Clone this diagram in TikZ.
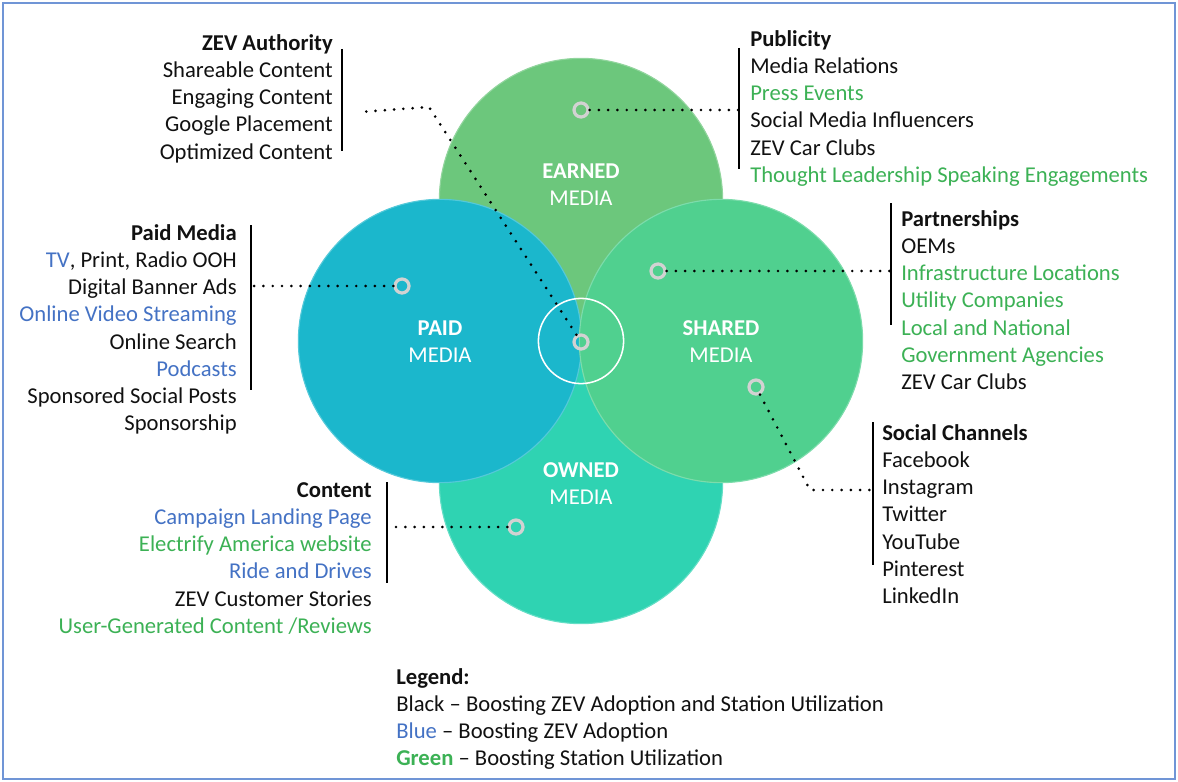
\documentclass[tikz,border=0pt]{standalone}
\usepackage{fontspec}
\setmainfont{Carlito}
\definecolor{earnedfill}{HTML}{6CC77C}
\definecolor{paidfill}{HTML}{1BB7CC}
\definecolor{sharedfill}{HTML}{50D08F}
\definecolor{ownedfill}{HTML}{2FD3B2}
\definecolor{markergray}{HTML}{D2D2D2}
\definecolor{txtblue}{HTML}{4472C4}
\definecolor{txtgreen}{HTML}{3CB155}
\definecolor{txtblack}{HTML}{111111}
\definecolor{framecol}{HTML}{7095D6}
\newcommand{\listfont}{\fontsize{16.1}{19.35}\selectfont}
\newcommand{\inblue}[1]{\textcolor{txtblue}{#1}}
\newcommand{\ingreen}[1]{\textcolor{txtgreen}{#1}}
\tikzset{
  media/.style={circle, minimum size=7.08cm, inner sep=0pt},
  mediatext/.style={text=white, align=center, anchor=north, inner sep=0pt, font=\listfont},
  marker/.style={circle, draw=markergray, line width=2.3pt, minimum size=0.35cm, inner sep=0pt},
  dotline/.style={line width=2.1pt, line cap=round, dash pattern=on 0pt off 6.6pt},
  bracket/.style={line width=2pt},
  listleft/.style={anchor=north west, align=left, inner sep=0pt, text=txtblack, font=\listfont},
  listright/.style={anchor=north east, align=right, inner sep=0pt, text=txtblack, font=\listfont}
}
\begin{document}
\begin{tikzpicture}[x=0.025cm, y=-0.025cm]
\useasboundingbox (0,0) rectangle (1178,782);
\draw[framecol, line width=2.1pt] (3,3) rectangle (1175,779);
% the four media circles
\node[media, fill=ownedfill, draw=ownedfill!75!white, line width=0.8pt] (owned) at (581,482) {};
\node[media, fill=earnedfill, draw=earnedfill!75!white, line width=0.8pt] (earned) at (581,200) {};
\node[media, fill=paidfill, draw=paidfill!75!white, line width=0.8pt] (paid) at (440,341) {};
\node[media, fill=sharedfill, draw=sharedfill!75!white, line width=0.8pt] (shared) at (721,341) {};
\node[circle, draw=white, line width=1.1pt, minimum size=2.13cm, inner sep=0pt] (hub) at (581,341) {};
\node[mediatext] (earnedlabel) at (581,159) {\strut\textbf{EARNED}\\MEDIA};
\node[mediatext] (paidlabel) at (440,316) {\strut\textbf{PAID}\\MEDIA};
\node[mediatext] (sharedlabel) at (721,316) {\strut\textbf{SHARED}\\MEDIA};
\node[mediatext] (ownedlabel) at (581,458) {\strut\textbf{OWNED}\\MEDIA};
% markers
\node[marker] (earnedmark) at (581,110) {};
\node[marker] (paidmark) at (402,286) {};
\node[marker] (sharedmark) at (658,271) {};
\node[marker] (socialmark) at (756,387) {};
\node[marker] (ownedmark) at (516,527) {};
\node[marker] (hubmark) at (581,342) {};
% bracket ends
\coordinate (pubtip) at (739,110);
\coordinate (paidtip) at (251,286);
\coordinate (parttip) at (891,271);
\coordinate (socialbend) at (810,490);
\coordinate (socialtip) at (873,490);
\coordinate (contenttip) at (387,527);
\coordinate (authbend) at (429,107);
\coordinate (authtip) at (360,112);
\draw[dotline] (earnedmark) -- (pubtip);
\draw[dotline] (paidmark) -- (paidtip);
\draw[dotline] (sharedmark) -- (parttip);
\draw[dotline] (socialmark) -- (socialbend) -- (socialtip);
\draw[dotline] (ownedmark) -- (contenttip);
\draw[dotline] (hubmark) -- (authbend) -- (authtip);
\draw[bracket] (342,49) -- (342,151);
\draw[bracket] (251,225) -- (251,390);
\draw[bracket] (387,482) -- (387,583);
\draw[bracket] (739,48) -- (739,169);
\draw[bracket] (891,203) -- (891,325);
\draw[bracket] (873,422) -- (873,565);
% lists
\node[listright] (authority) at (333,31) {\strut\textbf{ZEV Authority}\\Shareable Content\\Engaging Content\\Google Placement\\Optimized Content};
\node[listright] (paidlist) at (237,221) {\strut\textbf{Paid Media}\\\inblue{TV}, Print, Radio OOH\\Digital Banner Ads\\\inblue{Online Video Streaming}\\Online Search\\\inblue{Podcasts}\\Sponsored Social Posts\\Sponsorship};
\node[listright] (contentlist) at (372,478) {\strut\textbf{Content}\\\inblue{Campaign Landing Page}\\\ingreen{Electrify America website}\\\inblue{Ride and Drives}\\ZEV Customer Stories\\\ingreen{User-Generated Content /Reviews}};
\node[listleft] (publicity) at (750,27) {\strut\textbf{Publicity}\\Media Relations\\\ingreen{Press Events}\\Social Media Influencers\\ZEV Car Clubs\\\ingreen{Thought Leadership Speaking Engagements}};
\node[listleft] (partners) at (901,207) {\strut\textbf{Partnerships}\\OEMs\\\ingreen{Infrastructure Locations}\\\ingreen{Utility Companies}\\\ingreen{Local and National}\\\ingreen{Government Agencies}\\ZEV Car Clubs};
\node[listleft] (social) at (882,421) {\strut\textbf{Social Channels}\\Facebook\\Instagram\\Twitter\\YouTube\\Pinterest\\LinkedIn};
\node[listleft] (legend) at (396,665) {\strut\textbf{Legend:}\\Black – Boosting ZEV Adoption and Station Utilization\\\inblue{Blue} – Boosting ZEV Adoption\\\textbf{\ingreen{Green}} – Boosting Station Utilization};
\end{tikzpicture}
\end{document}
